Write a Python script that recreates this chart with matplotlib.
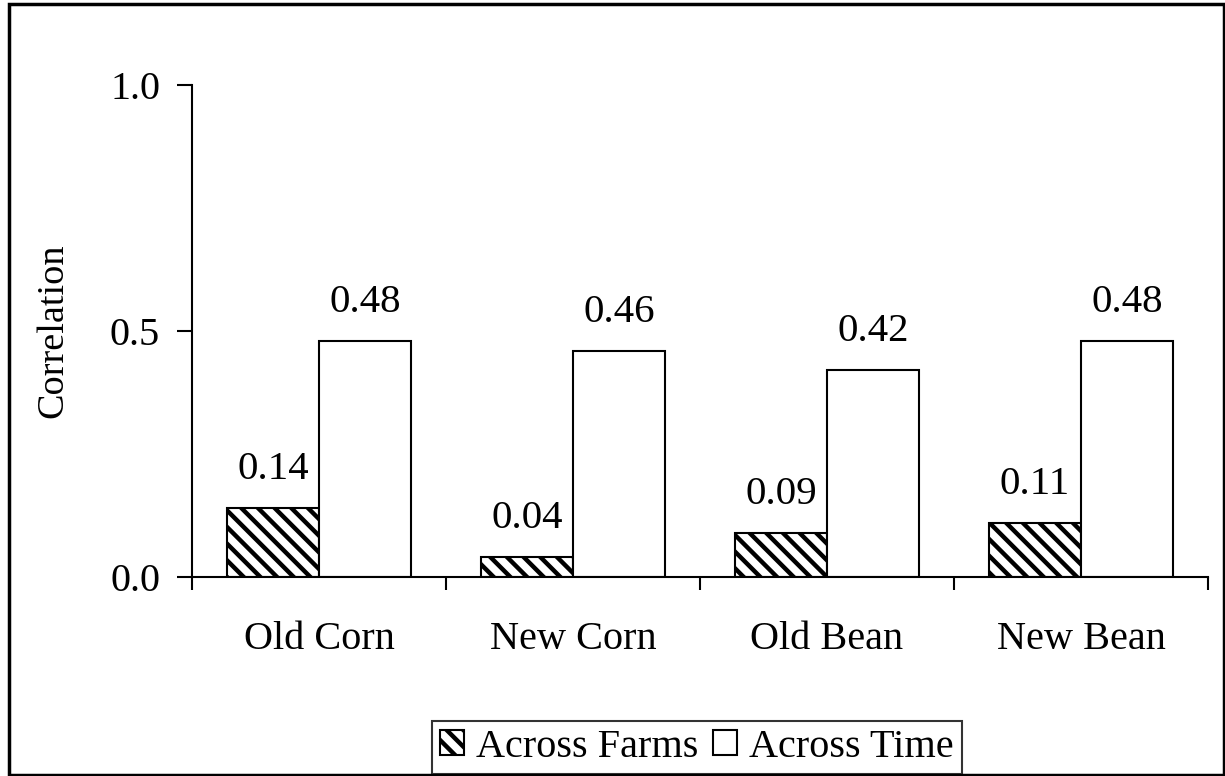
import matplotlib.pyplot as plt
from matplotlib.patches import Rectangle
import numpy as np

# Data
categories = ["Old Corn", "New Corn", "Old Bean", "New Bean"]
across_farms = [0.14, 0.04, 0.09, 0.11]
across_time = [0.48, 0.46, 0.42, 0.48]
series_names = ["Across Farms", "Across Time"]
y_ticks = [0.0, 0.5, 1.0]

plt.rcParams["font.family"] = ["Liberation Serif", "DejaVu Serif"]
plt.rcParams["hatch.linewidth"] = 3.2

fig = plt.figure(figsize=(12.25, 7.76), dpi=100)
ax = fig.add_axes([0.1567, 0.2564, 0.8294, 0.6341])

x = np.arange(len(categories))
w = 0.362
b1 = ax.bar(x - w / 2, across_farms, w, color="white", edgecolor="black",
            hatch="\\\\", linewidth=1.5, label=series_names[0])
b2 = ax.bar(x + w / 2, across_time, w, color="white", edgecolor="black",
            linewidth=1.5, label=series_names[1])

# value labels above bars
for bars, vals in [(b1, across_farms), (b2, across_time)]:
    for rect, v in zip(bars, vals):
        ax.annotate(f"{v:.2f}", (rect.get_x() + rect.get_width() / 2, v),
                    xytext=(0, 21), textcoords="offset points",
                    ha="center", va="baseline", fontsize=29.5)

ax.set_xlim(-0.5, len(categories) - 0.5)
ax.set_ylim(0, 1.0)
ax.set_yticks(y_ticks)
ax.set_yticklabels([f"{t:.1f}" for t in y_ticks])
ax.set_xticks(x)
ax.set_xticklabels(categories)
ax.set_xticks(np.arange(len(categories) + 1) - 0.5, minor=True)

ax.tick_params(axis="y", direction="out", length=11, width=1.5, pad=12, labelsize=29)
ax.tick_params(axis="x", which="major", length=0, pad=32, labelsize=29)
ax.tick_params(axis="x", which="minor", direction="out", length=9, width=1.5)

ax.spines["top"].set_visible(False)
ax.spines["right"].set_visible(False)
ax.spines["left"].set_linewidth(1.5)
ax.spines["bottom"].set_linewidth(1.5)

ax.set_ylabel("Correlation", fontsize=27.5)
ax.yaxis.set_label_coords(-0.12, 0.5)

leg = fig.legend(loc="lower center", bbox_to_anchor=(0.569, 0.003), ncol=2,
                 fontsize=29, frameon=True, fancybox=False, edgecolor="black",
                 handlelength=0.6, handleheight=0.6, handletextpad=0.3,
                 columnspacing=0.35, borderpad=0.2, borderaxespad=0)
leg.get_frame().set_linewidth(1.5)

# outer chart border
fig.patches.append(Rectangle((0.007, 0.001), 0.992, 0.994, transform=fig.transFigure,
                             fill=False, edgecolor="black", linewidth=2.5))

fig.savefig("out.png", dpi=100)
